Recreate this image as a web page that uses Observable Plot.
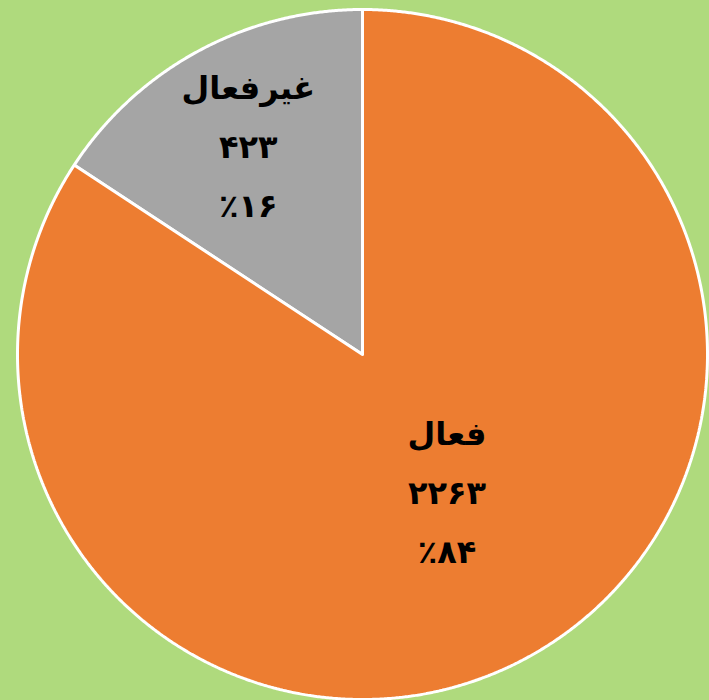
<!DOCTYPE html>
<html>
<head>
<meta charset="utf-8">
<script src="https://cdn.jsdelivr.net/npm/d3@7"></script>
<script src="https://cdn.jsdelivr.net/npm/@observablehq/plot@0.6"></script>
<style>
  html, body { margin: 0; padding: 0; background: #AFDA7D; }
  svg { display: block; }
</style>
</head>
<body>
<div id="chart"></div>
<script>
const categories = ["غیرفعال", "فعال"];
const values = [423, 2263];
const valueLabels = ["۴۲۳", "۲۲۶۳"];
const percentLabels = ["٪۱۶", "٪۸۴"];
const colors = ["#A5A5A5", "#ED7D31"];
const labelRadius = [0.71, 0.43];
const labelShift = [2, 14];

const total = d3.sum(values);
// angles measured counter-clockwise from 12 o'clock
let acc = 0;
const slices = values.map((v, i) => {
  const a0 = acc / total * 2 * Math.PI;
  acc += v;
  const a1 = acc / total * 2 * Math.PI;
  return {i, a0, a1, cat: categories[i]};
});

const polyPts = [];
for (const s of slices) {
  polyPts.push({x: 0, y: 0, cat: s.cat});
  const n = Math.ceil((s.a1 - s.a0) / (Math.PI / 720));
  for (let k = 0; k <= n; k++) {
    const a = s.a0 + (s.a1 - s.a0) * k / n;
    polyPts.push({x: -Math.sin(a), y: Math.cos(a), cat: s.cat});
  }
  polyPts.push({x: 0, y: 0, cat: s.cat});
}

const labels = slices.map(s => {
  const m = (s.a0 + s.a1) / 2;
  const r = labelRadius[s.i];
  return {
    x: -Math.sin(m) * r,
    y: Math.cos(m) * r,
    dx: labelShift[s.i],
    text: `${categories[s.i]}\n${valueLabels[s.i]}\n${percentLabels[s.i]}`
  };
});

const chart = Plot.plot({
  width: 709,
  height: 700,
  margin: 0,
  style: {background: "#AFDA7D"},
  x: {domain: [-1, 1], range: [17, 707], axis: null},
  y: {domain: [-1, 1], range: [699, 9], axis: null},
  color: {domain: categories, range: colors},
  marks: [
    Plot.line(polyPts, {x: "x", y: "y", z: "cat", fill: "cat", stroke: "white", strokeWidth: 3, strokeLinejoin: "miter"}),
    ...labels.map(l => Plot.text([l], {
      x: "x", y: "y", text: "text", dx: l.dx,
      fontSize: 32, fontWeight: "bold", lineHeight: 1.85,
      fontFamily: "DejaVu Sans", fill: "black"
    }))
  ]
});
document.getElementById("chart").appendChild(chart);
</script>
</body>
</html>
